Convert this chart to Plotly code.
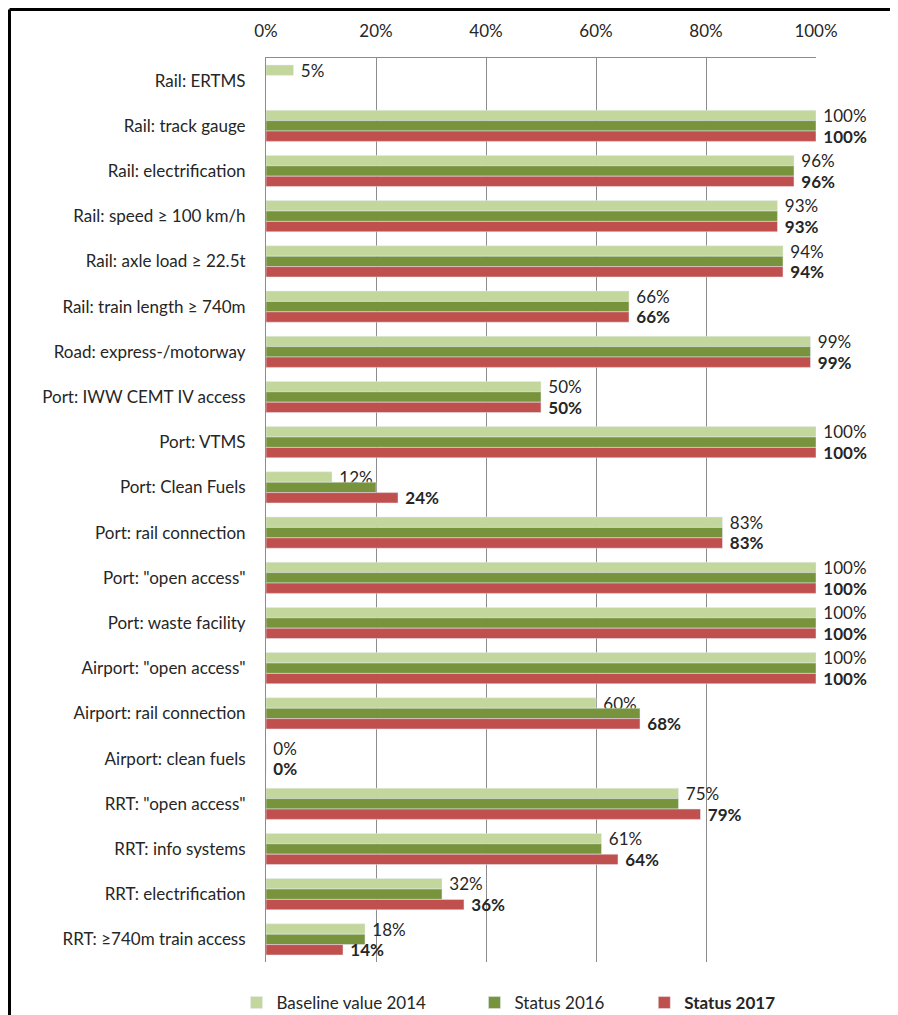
"""Core network compliance indicators

Grouped horizontal bar chart: baseline 2014 vs status 2016 vs status 2017
"""

import plotly.graph_objects as go

# Categories, top to bottom
categories = [
    "Rail: ERTMS",
    "Rail: track gauge",
    "Rail: electrification",
    "Rail: speed ≥ 100 km/h",
    "Rail: axle load ≥ 22.5t",
    "Rail: train length ≥ 740m",
    "Road: express-/motorway",
    "Port: IWW CEMT IV access",
    "Port: VTMS",
    "Port: Clean Fuels",
    "Port: rail connection",
    "Port: \"open access\"",
    "Port: waste facility",
    "Airport: \"open access\"",
    "Airport: rail connection",
    "Airport: clean fuels",
    "RRT: \"open access\"",
    "RRT: info systems",
    "RRT: electrification",
    "RRT: ≥740m train access",
]

baseline_2014 = [5, 100, 96, 93, 94, 66, 99, 50, 100, 12, 83, 100, 100, 100, 60, 0, 75, 61, 32, 18]
status_2016 = [None, 100, 96, 93, 94, 66, 99, 50, 100, 20, 83, 100, 100, 100, 68, 0, 75, 61, 32, 18]
status_2017 = [None, 100, 96, 93, 94, 66, 99, 50, 100, 24, 83, 100, 100, 100, 68, 0, 79, 64, 36, 14]

x_ticks = [0, 20, 40, 60, 80, 100]

FONT = "Lato, 'Open Sans', sans-serif"
TEXT_COLOR = "#262626"
GRID = "#8c8c8c"
NBSP = "\u00a0"

# Labels for the baseline (plain) and 2017 (bold) series
baseline_text = ["" if v is None else f"{NBSP}{v}%" for v in baseline_2014]
status17_text = ["" if v is None else f"{NBSP}<b>{v}%</b>" for v in status_2017]

fig = go.Figure()

fig.add_trace(go.Bar(
    y=categories, x=baseline_2014, orientation="h",
    name="Baseline value 2014" + NBSP * 10,
    marker_color="#C3D69B",
    text=baseline_text, textposition="outside",
    textfont=dict(size=17, color=TEXT_COLOR, family=FONT),
    constraintext="none", cliponaxis=False,
))

fig.add_trace(go.Bar(
    y=categories, x=status_2016, orientation="h",
    name="Status 2016" + NBSP * 8,
    marker_color="#77933C",
))

fig.add_trace(go.Bar(
    y=categories, x=status_2017, orientation="h",
    name="<b>Status 2017</b>",
    marker_color="#C0504D",
    text=status17_text, textposition="outside",
    textfont=dict(size=17, color=TEXT_COLOR, family=FONT),
    constraintext="none", cliponaxis=False,
))

# the page body has an 8px margin, so the figure starts 8px in from the window
fig.update_layout(
    width=882, height=1007,
    barmode="group",
    bargap=0.31,
    bargroupgap=0,
    plot_bgcolor="white",
    paper_bgcolor="white",
    font=dict(family=FONT, size=17, color=TEXT_COLOR),
    margin=dict(l=258, r=74, t=50, b=53, autoexpand=False),
    showlegend=True,
    legend=dict(
        orientation="h",
        x=-0.0536, xanchor="left",
        y=-0.0454, yanchor="middle",
        font=dict(size=17),
        traceorder="normal",
        itemwidth=30,
    ),
)

fig.update_xaxes(
    side="top",
    range=[0, 100],
    tickvals=x_ticks,
    ticktext=[f"{t}%" for t in x_ticks],
    showgrid=True, gridcolor=GRID, gridwidth=1,
    showline=True, linecolor=GRID, linewidth=1,
    zeroline=False,
    ticks="",
    ticklabelstandoff=13,
    tickfont=dict(size=17),
)

fig.update_yaxes(
    autorange="reversed",
    showline=True, linecolor=GRID, linewidth=1,
    showgrid=False,
    ticks="",
    ticklabelstandoff=16,
    tickfont=dict(size=17),
)

# Black frame: only its left and top edges are in view
frame_left = (1.5 - 258) / 550
frame_top = 1 + (50 - 1.5) / 904
fig.add_shape(
    type="line", xref="paper", yref="paper",
    x0=frame_left, x1=frame_left, y0=-0.1, y1=frame_top,
    line=dict(color="black", width=3), layer="above",
)
fig.add_shape(
    type="line", xref="paper", yref="paper",
    x0=frame_left, x1=1.2, y0=frame_top, y1=frame_top,
    line=dict(color="black", width=3), layer="above",
)

fig.write_html("out.html")
